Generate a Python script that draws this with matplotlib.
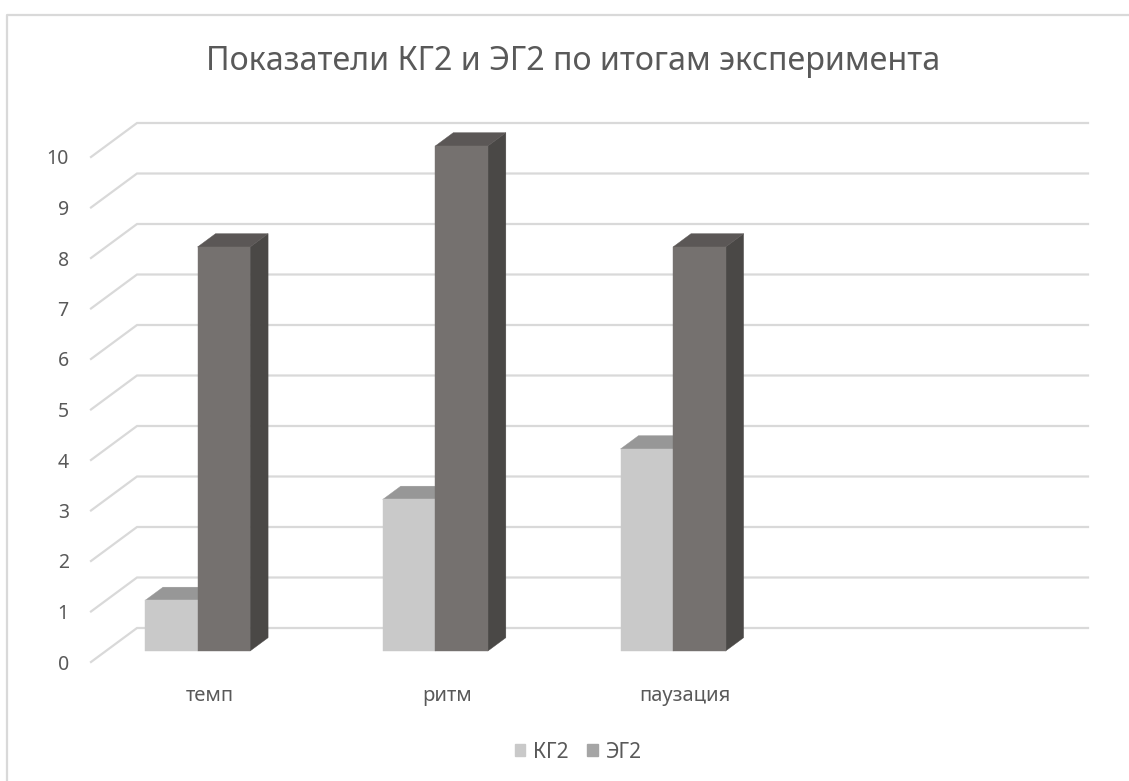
import matplotlib
matplotlib.use("Agg")
import matplotlib.pyplot as plt
from matplotlib.patches import Polygon, Patch
from matplotlib.lines import Line2D

# ---- data -------------------------------------------------------------
categories = ["темп", "ритм", "паузация"]
kg2 = [1, 3, 4]
eg2 = [8, 10, 8]
series_names = ["КГ2", "ЭГ2"]
title = "Показатели КГ2 и ЭГ2 по итогам эксперимента"
yticks = list(range(0, 11))

# ---- styling ----------------------------------------------------------
plt.rcParams["font.family"] = ["Noto Sans", "DejaVu Sans"]
TEXT = "#595959"
GRID = "#D9D9D9"
front_cols = ["#C9C9C9", "#75716F"]
top_cols = ["#979797", "#5B5756"]
side_cols = ["#8E8E8E", "#4A4846"]
legend_cols = ["#C9C9C9", "#A5A5A5"]

W, H = 1129, 781
fig = plt.figure(figsize=(W / 100, H / 100), dpi=100)

# front plane of the 3-D box in figure pixels
x0, x1 = 91, 1042
y0, y1 = 662, 157
n_slots = 4
ax = fig.add_axes([x0 / W, 1 - y0 / H, (x1 - x0) / W, (y0 - y1) / H])
ax.set_xlim(0, n_slots)
ax.set_ylim(0, 10)
for s in ax.spines.values():
    s.set_visible(False)

# depth vector of the box in data units
DX = 46 / ((x1 - x0) / n_slots)
DY = 34 / ((y0 - y1) / 10)


def proj(x, v, f):
    return (x + f * DX, v + f * DY)


# walls: diagonal on the left wall, horizontal on the back wall
for v in yticks:
    pts = [proj(0, v, 0), proj(0, v, 1), proj(n_slots, v, 1)]
    ax.add_line(Line2D([p[0] for p in pts], [p[1] for p in pts],
                       color=GRID, lw=1.6, clip_on=False, zorder=1,
                       solid_joinstyle="miter"))

# bars
OFF, BW = 0.1645, 0.221
F0, F1 = 0.324, 0.715
z = 2
for i in range(len(categories)):
    for s, vals in enumerate([kg2, eg2]):
        v = vals[i]
        xl = i + OFF + s * BW
        xr = xl + BW
        front = [proj(xl, 0, F0), proj(xr, 0, F0), proj(xr, v, F0), proj(xl, v, F0)]
        side = [proj(xr, 0, F0), proj(xr, 0, F1), proj(xr, v, F1), proj(xr, v, F0)]
        top = [proj(xl, v, F0), proj(xr, v, F0), proj(xr, v, F1), proj(xl, v, F1)]
        for poly, col in [(side, side_cols[s]), (top, top_cols[s]), (front, front_cols[s])]:
            ax.add_patch(Polygon(poly, closed=True, facecolor=col, edgecolor=col,
                                 lw=0.3, clip_on=False, zorder=z))
        z += 1

# axes labels
ax.set_yticks(yticks)
ax.set_yticklabels([str(t) for t in yticks])
ax.tick_params(axis="y", length=0, pad=16, labelsize=14, labelcolor=TEXT)
ax.set_xticks([i + 0.5 for i in range(len(categories))])
ax.set_xticklabels(categories)
ax.tick_params(axis="x", length=0, pad=17, labelsize=14.5, labelcolor=TEXT)

# title
fig.text(573 / W, 1 - 61 / H, title, ha="center", va="center",
         fontsize=23.2, color=TEXT)

# legend
handles = [Patch(facecolor=c, edgecolor=c) for c in legend_cols]
fig.legend(handles, series_names, loc="center", bbox_to_anchor=(578 / W, 1 - 752 / H),
           ncol=2, frameon=False, fontsize=15, labelcolor=TEXT,
           handlelength=0.5, handleheight=0.5, handletextpad=0.35, columnspacing=0.9)

# chart border
fig.add_artist(Line2D([7 / W, 7 / W, 1], [0, 1 - 15 / H, 1 - 15 / H],
                      transform=fig.transFigure, color=GRID, lw=1.6))

fig.savefig("out.png", dpi=100)
